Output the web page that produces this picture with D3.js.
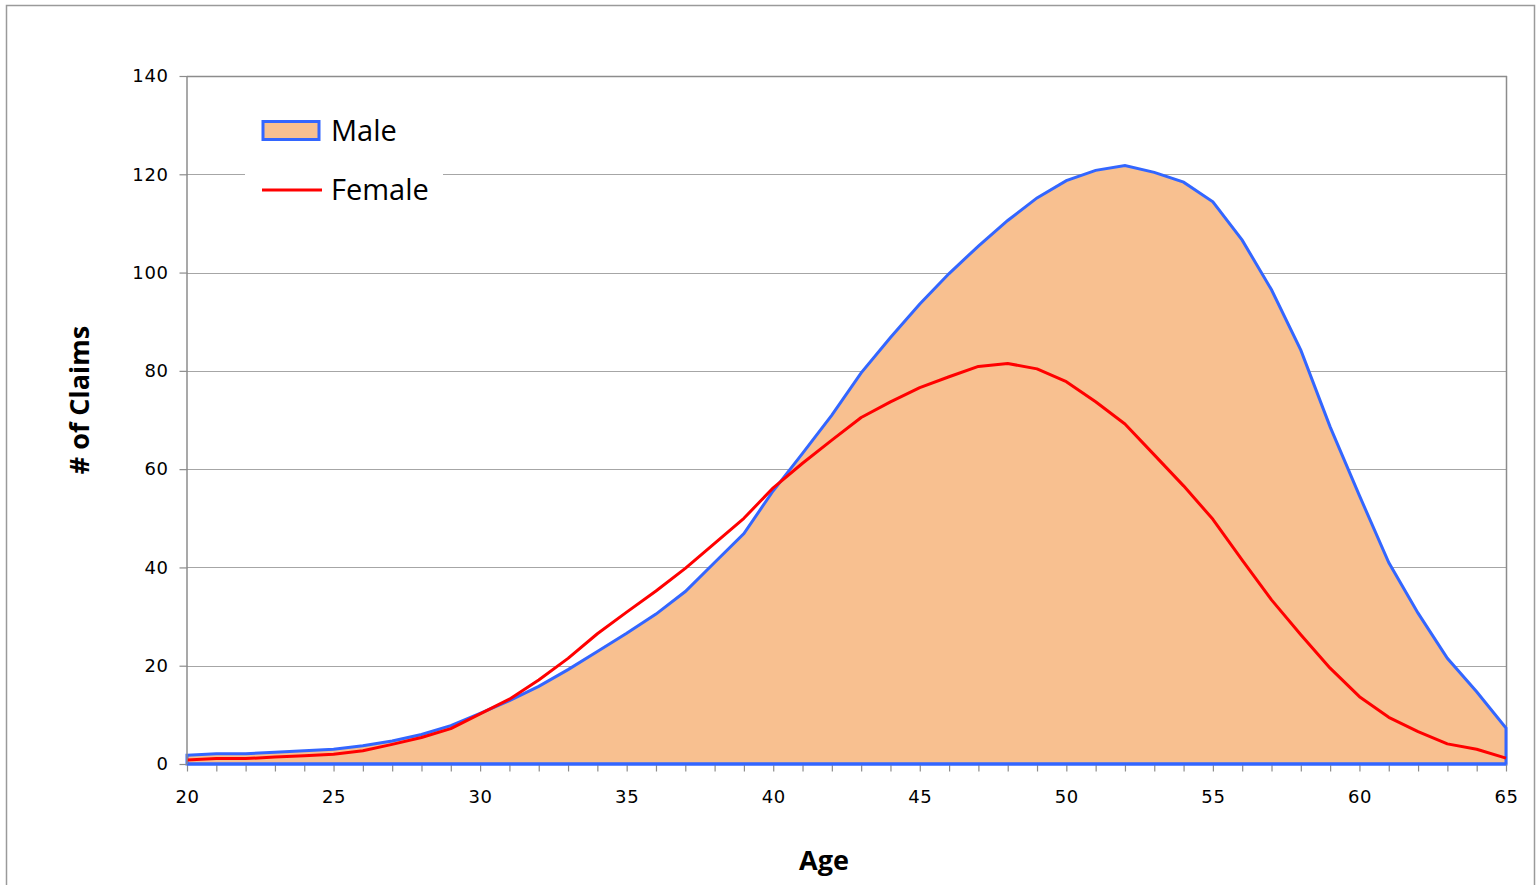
<!DOCTYPE html>
<html>
<head>
<meta charset="utf-8">
<script src="https://cdn.jsdelivr.net/npm/d3@7"></script>
<style>
  html, body { margin: 0; padding: 0; background: #fff; }
  svg { display: block; }
</style>
</head>
<body>
<svg id="chart" width="1539" height="885"></svg>
<script>
const ages = d3.range(20, 66);
const maleClaims = [1.8, 2.1, 2.1, 2.4, 2.7, 3.0, 3.7, 4.7, 6.0, 7.8,
  10.3, 12.9, 15.8, 19.2, 22.9, 26.6, 30.5, 35.1, 41.0, 46.9,
  55.6, 63.2, 71.0, 79.6, 86.8, 93.6, 99.8, 105.4, 110.6, 115.2,
  118.7, 120.8, 121.8, 120.4, 118.4, 114.4, 106.6, 96.5, 84.2, 68.6,
  54.6, 41.0, 30.7, 21.5, 14.7, 7.3];
const femaleClaims = [0.8, 1.1, 1.1, 1.4, 1.7, 2.0, 2.7, 4.0, 5.4, 7.2,
  10.2, 13.2, 17.1, 21.5, 26.5, 30.9, 35.2, 39.8, 44.9, 50.0,
  56.2, 61.2, 65.9, 70.5, 73.7, 76.6, 78.8, 80.9, 81.5, 80.4,
  77.8, 73.7, 69.2, 62.9, 56.6, 49.8, 41.5, 33.4, 26.3, 19.5,
  13.7, 9.5, 6.6, 4.1, 3.0, 1.2];
const yTicks = [0, 20, 40, 60, 80, 100, 120, 140];
const xTickLabels = [20, 25, 30, 35, 40, 45, 50, 55, 60, 65];
const seriesNames = ["Male", "Female"];

const svg = d3.select("#chart");
const pL = 187, pR = 1506, pT = 76, pB = 764;
const x = d3.scaleLinear().domain([20, 65]).range([pL, pR]);
const y = d3.scaleLinear().domain([0, 140]).range([pB, pT]);
const axisColor = "#8c8c8c";
const font = "'DejaVu Sans', Verdana, sans-serif";

// outer frame
svg.append("rect").attr("x", 6.5).attr("y", 5.5).attr("width", 1528).attr("height", 900)
  .attr("fill", "#fff").attr("stroke", "#9a9a9a").attr("stroke-width", 1.5);

// gridlines
svg.append("g").selectAll("line").data(yTicks.filter(d => d > 0)).join("line")
  .attr("x1", pL).attr("x2", pR)
  .attr("y1", d => Math.round(y(d)) + 0.5).attr("y2", d => Math.round(y(d)) + 0.5)
  .attr("stroke", "#a6a6a6").attr("stroke-width", 1.2);

// plot frame right
svg.append("line").attr("x1", pR + 0.5).attr("x2", pR + 0.5).attr("y1", pT).attr("y2", pB)
  .attr("stroke", axisColor).attr("stroke-width", 1.5);

// male area
const data = ages.map((a, i) => ({age: a, m: maleClaims[i], f: femaleClaims[i]}));
const area = d3.area().x(d => x(d.age)).y0(y(0)).y1(d => y(d.m));
svg.append("path").attr("d", area(data) + "Z")
  .attr("fill", "#f8c090").attr("stroke", "#3366ff").attr("stroke-width", 3)
  .attr("stroke-linejoin", "miter");

// female line
const line = d3.line().x(d => x(d.age)).y(d => y(d.f));
svg.append("path").attr("d", line(data))
  .attr("fill", "none").attr("stroke", "#ff0000").attr("stroke-width", 3)
  .attr("stroke-linejoin", "round");

// y axis
const yAxis = d3.axisLeft(y).tickValues(yTicks).tickSize(8).tickPadding(11).tickFormat(d3.format("d"));
const gy = svg.append("g").attr("transform", `translate(${pL + 0.5},0)`).call(yAxis);
gy.select(".domain").remove();
gy.selectAll(".tick line").attr("stroke", axisColor).attr("stroke-width", 1.2);
gy.selectAll(".tick text").attr("font-family", font).attr("font-size", 18)
  .attr("letter-spacing", 0.6).attr("fill", "#000");

// x axis
const xAxis = d3.axisBottom(x).tickValues(ages).tickSize(7).tickPadding(19)
  .tickFormat(d => xTickLabels.includes(d) ? d : "");
const gx = svg.append("g").attr("transform", `translate(0,${pB + 0.5})`).call(xAxis);
gx.select(".domain").remove();
gx.selectAll(".tick line").attr("stroke", axisColor).attr("stroke-width", 1.2);
gx.selectAll(".tick text").attr("font-family", font).attr("font-size", 18)
  .attr("letter-spacing", 0.6).attr("fill", "#000");

// frame lines
svg.append("line").attr("x1", pL).attr("x2", pR).attr("y1", pB).attr("y2", pB)
  .attr("stroke", "#3366ff").attr("stroke-width", 3);
svg.append("line").attr("x1", pL).attr("x2", pL).attr("y1", pT).attr("y2", pB)
  .attr("stroke", axisColor).attr("stroke-width", 1.5);
svg.append("line").attr("x1", pL).attr("x2", pR + 1).attr("y1", pT + 0.5).attr("y2", pT + 0.5)
  .attr("stroke", axisColor).attr("stroke-width", 1.5);

// axis titles
svg.append("text").attr("x", 824).attr("y", 870).attr("text-anchor", "middle")
  .attr("font-family", "'Open Sans', sans-serif").attr("font-weight", "bold").attr("font-size", 27)
  .text("Age");
svg.append("text").attr("transform", "translate(89,400) rotate(-90)").attr("text-anchor", "middle")
  .attr("font-family", "'Open Sans', sans-serif").attr("font-weight", "bold").attr("font-size", 27)
  .text("# of Claims");

// legend
const lg = svg.append("g");
lg.append("rect").attr("x", 245).attr("y", 108).attr("width", 198).attr("height", 105).attr("fill", "#fff");
lg.append("rect").attr("x", 263).attr("y", 121.5).attr("width", 56).attr("height", 18)
  .attr("fill", "#f8c090").attr("stroke", "#3366ff").attr("stroke-width", 3);
lg.append("line").attr("x1", 262).attr("x2", 322).attr("y1", 190).attr("y2", 190)
  .attr("stroke", "#ff0000").attr("stroke-width", 3);
lg.selectAll("text.lab").data(seriesNames).join("text").attr("class", "lab")
  .attr("x", 331).attr("y", (d, i) => 141 + i * 59)
  .attr("font-family", "'Open Sans', sans-serif").attr("font-size", 29).attr("fill", "#000")
  .text(d => d);
</script>
</body>
</html>
